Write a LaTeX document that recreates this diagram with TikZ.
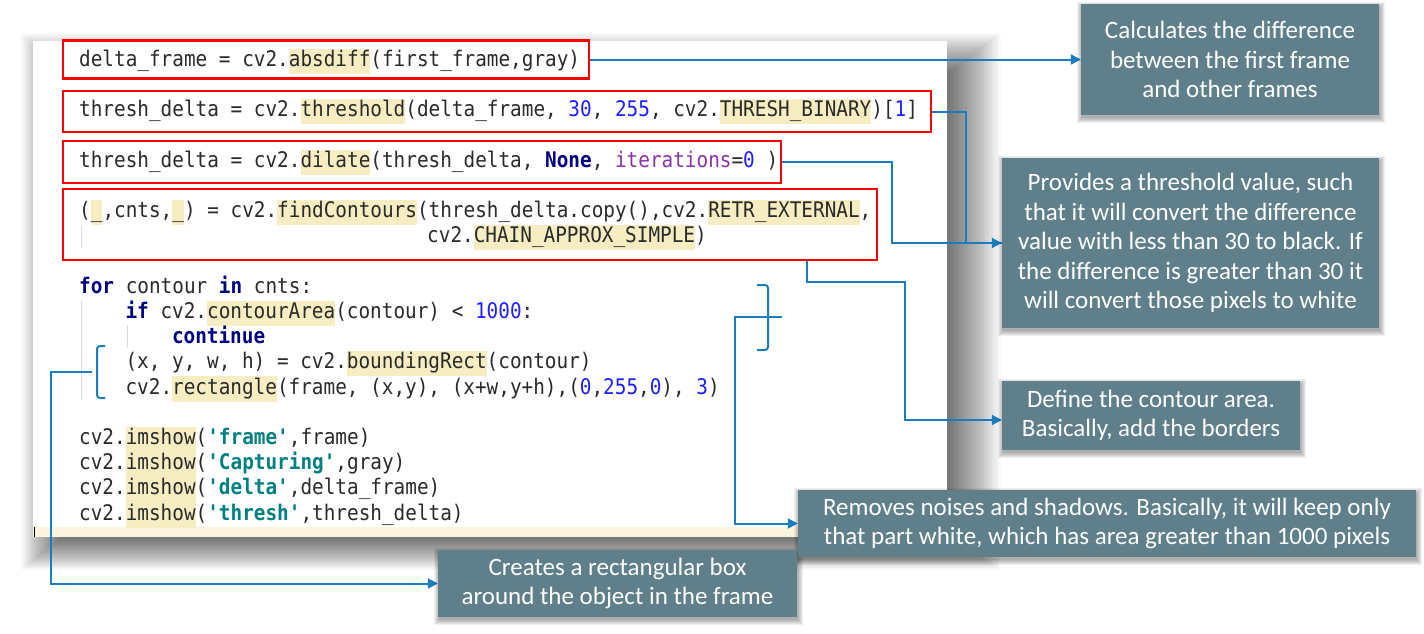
\documentclass[tikz,border=0pt]{standalone}
\usepackage{fontspec}
\setmainfont{Carlito}
\newfontfamily\codefont[FakeStretch=0.9]{DejaVu Sans Mono}
\usetikzlibrary{arrows.meta}
\definecolor{calloutc}{HTML}{5F808A}
\definecolor{connc}{HTML}{1A7DBF}
\definecolor{hlc}{HTML}{F7EDC2}
\definecolor{numc}{HTML}{1F1FFF}
\definecolor{kwc}{HTML}{000080}
\definecolor{strc}{HTML}{008080}
\definecolor{argc}{HTML}{8A35A6}
\definecolor{codetxt}{HTML}{2A2A2A}
\definecolor{curline}{HTML}{FBF5DF}
\newcommand\hl[1]{{\setlength\fboxsep{0pt}\colorbox{hlc}{\strut#1}}}
\newcommand\nm[1]{\textcolor{numc}{#1}}
\newcommand\kw[1]{\textcolor{kwc}{\bfseries#1}}
\newcommand\st[1]{\textcolor{strc}{\bfseries#1}}
\newcommand\ar[1]{\textcolor{argc}{#1}}
\newcommand\boxshadow[1]{%
  \foreach \i in {0,...,5}{%
    \fill[black,opacity=0.06]
      ([xshift={(1-\i)*1pt},yshift={(-3-\i)*1pt}]#1.south west) rectangle
      ([xshift={(1+\i)*1pt},yshift={(\i-3)*1pt}]#1.north east);}}
\pgfdeclarelayer{fg}
\pgfsetlayers{main,fg}
\begin{document}
\begin{tikzpicture}[x=1pt,y=-1pt,
  codeline/.style={anchor=base west,inner sep=0pt,font=\codefont\fontsize{21.5}{25.2}\selectfont,text=codetxt},
  redbox/.style={draw=red,line width=2.5pt,inner sep=0pt},
  callout/.style={fill=calloutc,text=white,align=center,inner sep=0pt,
    font=\fontsize{25}{29.5}\selectfont},
  conn/.style={draw=connc,line width=2pt},
  arr/.style={conn,-{Triangle[length=10pt,width=10pt]}},
  guide/.style={draw=black!14,line width=0.8pt}]

\useasboundingbox (0,0) rectangle (1424,633);
\fill[white] (0,0) rectangle (1424,633);

% soft shadow of the code panel
\foreach \i in {0,...,39}{%
  \fill[black,opacity=0.015] ({60-1*\i},{72-1*\i}) rectangle ({950+1.3*\i},{539+0.8*\i});}

% code panel
\node[fill=white,minimum width=914pt,minimum height=496pt,inner sep=0pt]
  (panel) at (490,289) {};
\fill[curline] (33,527) rectangle (947,537);
\draw[black,line width=1pt] (34,527) -- (34,537);

% indent guides
\draw[guide] (81,225) -- (81,248);
\draw[guide] (81,300) -- (81,400);
\draw[guide] (127,325) -- (127,348);

% code lines
\node[codeline] (l1) at (79,66.5) {delta\_frame = cv2.\hl{absdiff}(first\_frame,gray)};
\node[codeline] (l2) at (79,116.9) {thresh\_delta = cv2.\hl{threshold}(delta\_frame, \nm{30}, \nm{255}, cv2.\hl{THRESH\_BINARY})[\nm{1}]};
\node[codeline] (l3) at (79,167.3) {thresh\_delta = cv2.\hl{dilate}(thresh\_delta, \kw{None}, \ar{iterations}=\nm{0} )};
\node[codeline] (l4) at (79,217.7) {(\hl{\_},cnts,\hl{\_}) = cv2.\hl{findContours}(thresh\_delta.copy(),cv2.\hl{RETR\_EXTERNAL},};
\node[codeline] (l5) at (427,242.9) {cv2.\hl{CHAIN\_APPROX\_SIMPLE})};
\node[codeline] (l6) at (79,293.3) {\kw{for} contour \kw{in} cnts:};
\node[codeline] (l7) at (125.4,318.5) {\kw{if} cv2.\hl{contourArea}(contour) < \nm{1000}:};
\node[codeline] (l8) at (171.8,343.7) {\kw{continue}};
\node[codeline] (l9) at (125.4,368.9) {(x, y, w, h) = cv2.\hl{boundingRect}(contour)};
\node[codeline] (l10) at (125.4,394.1) {cv2.\hl{rectangle}(frame, (x,y), (x+w,y+h),(\nm{0},\nm{255},\nm{0}), \nm{3})};
\node[codeline] (l11) at (79,444.5) {cv2.\hl{imshow}(\st{'frame'},frame)};
\node[codeline] (l12) at (79,469.7) {cv2.\hl{imshow}(\st{'Capturing'},gray)};
\node[codeline] (l13) at (79,494.9) {cv2.\hl{imshow}(\st{'delta'},delta\_frame)};
\node[codeline] (l14) at (79,520.1) {cv2.\hl{imshow}(\st{'thresh'},thresh\_delta)};

% red boxes
\node[redbox,minimum width=526pt,minimum height=38pt] (r1) at (326,59.5) {};
\node[redbox,minimum width=868pt,minimum height=41pt] (r2) at (497,111.5) {};
\node[redbox,minimum width=718pt,minimum height=42pt] (r3) at (422,162) {};
\node[redbox,minimum width=814pt,minimum height=71pt] (r4) at (470,224.5) {};

% callouts (on the foreground layer, above their shadows)
\begin{pgfonlayer}{fg}
\node[callout,minimum width=298pt,minimum height=111pt] (cA) at (1230,59.5)
  {Calculates the difference\\between the first frame\\and other frames};
\node[callout,minimum width=377pt,minimum height=170pt] (cB) at (1190.5,243)
  {Provides a threshold value, such\\that it will convert the difference\\value with less than 30 to black. If\\the difference is greater than 30 it\\will convert those pixels to white};
\node[callout,minimum width=298pt,minimum height=69pt] (cC) at (1151,415.5)
  {Define the contour area.\\Basically, add the borders};
\node[callout,minimum width=618pt,minimum height=67pt] (cD) at (1107,523.5)
  {Removes noises and shadows. Basically, it will keep only\\that part white, which has area greater than 1000 pixels};
\node[callout,minimum width=359pt,minimum height=67pt] (cE) at (617.5,583.5)
  {Creates a rectangular box\\around the object in the frame};
\end{pgfonlayer}

% connectors
\draw[arr] (r1.east) -- (cA.west);
\draw[arr] (r2.east) -- ++(34,0) |- (cB.west);
\draw[conn] (r3.east) -- ++(110,0) |- (cB.west);
\draw[arr] ([xshift=-71pt]r4.south east) -- ++(0,21) -- ++(98,0) |- ([yshift=-4.5pt]cC.west);

\coordinate (bR) at (782,317);
\draw[conn,rounded corners=3pt] (757,285) -- (768,285) -- (768,350) -- (757,350);
\draw[conn] (768,317) -- (bR);
\draw[arr] (bR) -- (735,317) |- (cD.west);

\coordinate (bL) at (92,372);
\draw[conn,rounded corners=3pt] (105,346) -- (97,346) -- (97,398) -- (105,398);
\draw[arr] (bL) -- (51,372) |- (cE.west);

% callout shadows
\boxshadow{cA}
\boxshadow{cB}
\boxshadow{cC}
\boxshadow{cD}
\boxshadow{cE}
\end{tikzpicture}
\end{document}
